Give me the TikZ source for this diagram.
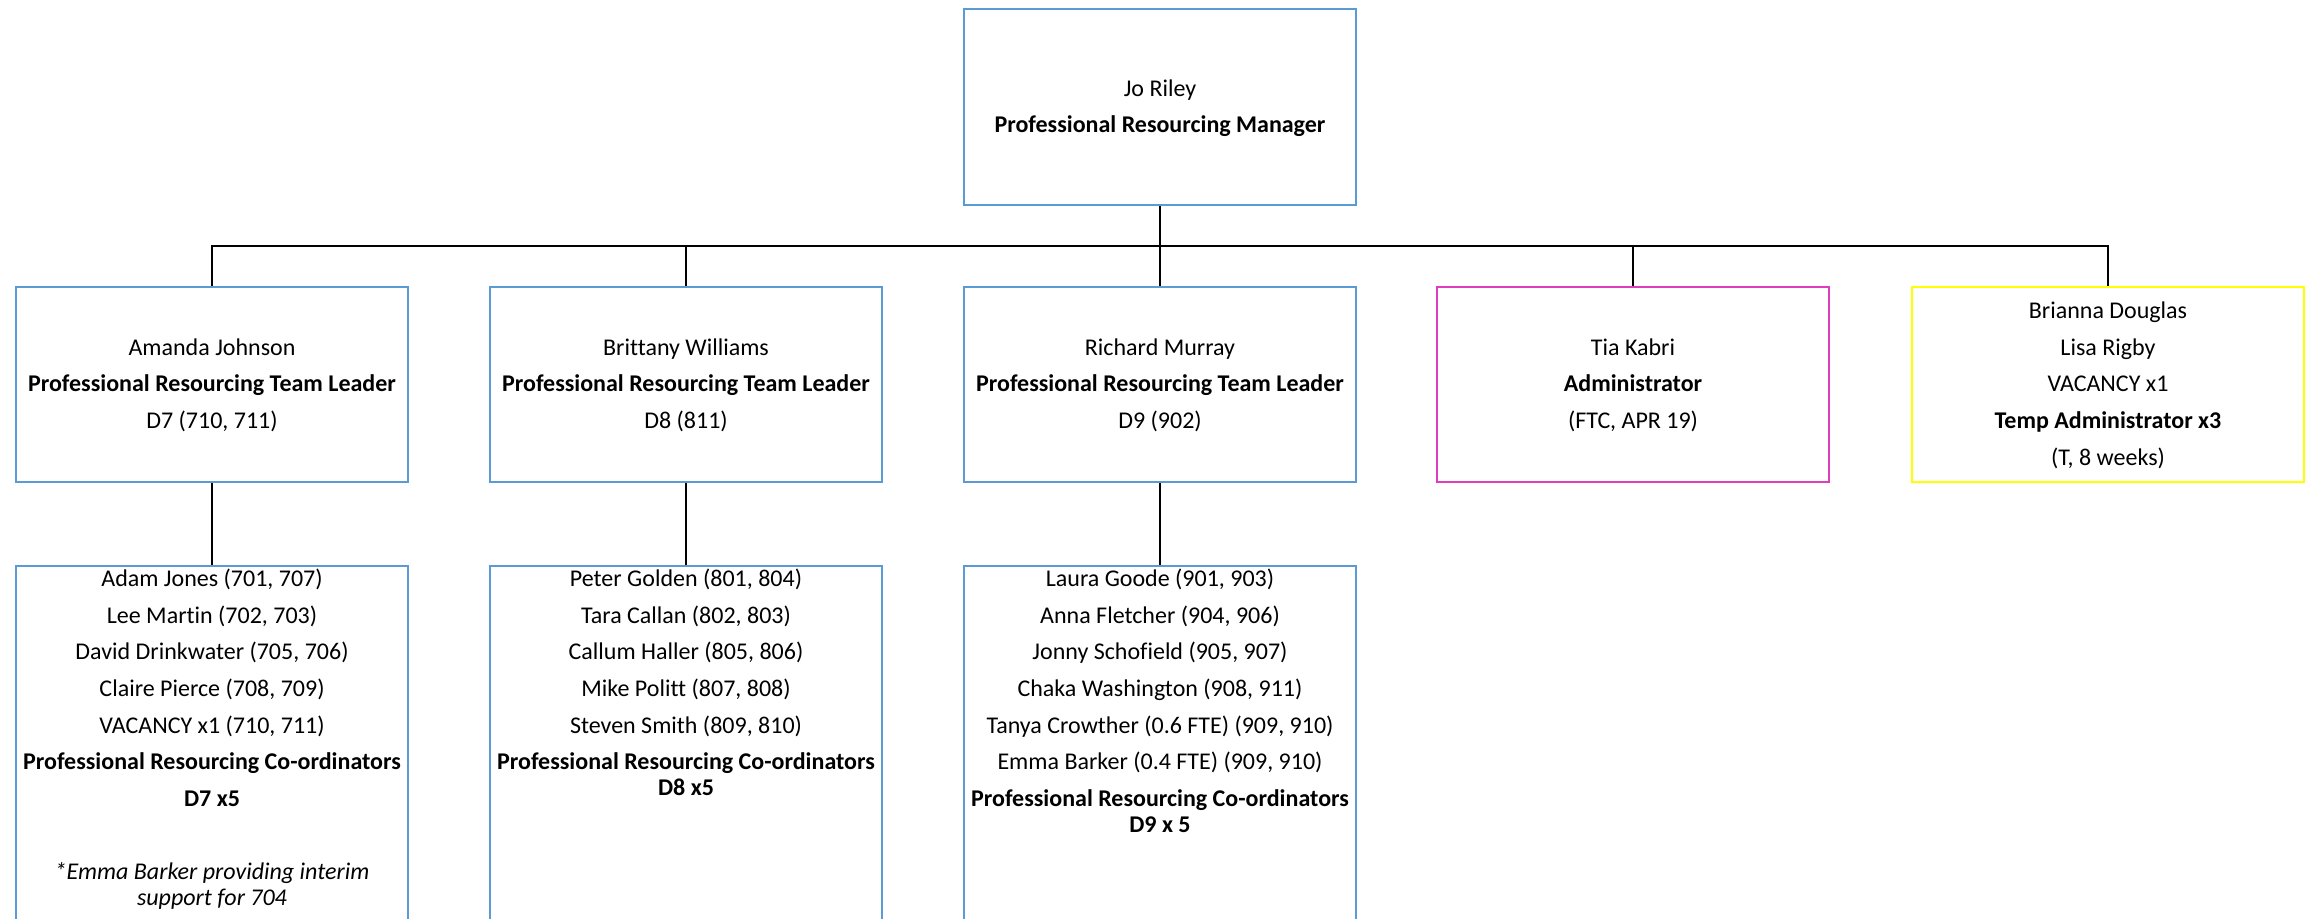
\documentclass[tikz,border=0pt]{standalone}
\usepackage{fontspec}
\setmainfont{Carlito}[Ligatures=NoCommon]
\definecolor{boxblue}{HTML}{5B9BD5}
\definecolor{boxpink}{HTML}{E03CBE}
\definecolor{boxyellow}{HTML}{FFFF00}
\setlength\tabcolsep{0pt}
\newcommand\tb[1]{\begin{tabular}[t]{c}#1\end{tabular}}
\newcommand\tc[1]{\begin{tabular}{c}#1\end{tabular}}
\tikzset{
  orgbox/.style={draw=boxblue, line width=1.9pt, rectangle, inner sep=0pt,
    minimum width=294pt, fill=white},
  topbox/.style={orgbox, minimum height=147pt},
  midbox/.style={orgbox, minimum height=146.25pt},
  lowbox/.style={orgbox, minimum height=300pt},
  lowtext/.style={anchor=base, inner sep=0pt},
  conn/.style={draw=black, line width=1.6pt},
  every node/.style={font=\fontsize{18}{27.5}\selectfont}
}
\begin{document}
\begin{tikzpicture}[x=0.75pt, y=-0.75pt]
\useasboundingbox (0,0) rectangle (2309,918);
\fill[white] (0,0) rectangle (2309,918);
\clip (0,0) rectangle (2309,918);

% top
\node[topbox] (top) at (1160,107) {\tc{Jo Riley\\ \textbf{Professional Resourcing Manager}}};

% middle row
\node[midbox] (A) at (212,384.5) {\tc{Amanda Johnson\\ \textbf{Professional Resourcing Team Leader}\\ D7 (710, 711)}};
\node[midbox] (B) at (686,384.5) {\tc{Brittany Williams\\ \textbf{Professional Resourcing Team Leader}\\ D8 (811)}};
\node[midbox] (C) at (1160,384.5) {\tc{Richard Murray\\ \textbf{Professional Resourcing Team Leader}\\ D9 (902)}};
\node[midbox, draw=boxpink] (D) at (1633,384.5) {\tc{Tia Kabri\\ \textbf{Administrator}\\ (FTC, APR 19)}};
\node[midbox, draw=boxyellow] (E) at (2108,384.5) {\tc{Brianna Douglas\\ Lisa Rigby\\ VACANCY x1\\ \textbf{Temp Administrator x3}\\ (T, 8 weeks)}};

% bottom row
\node[lowbox] (A2) at (212,766) {};
\node[lowbox] (B2) at (686,766) {};
\node[lowbox] (C2) at (1160,766) {};

\node[lowtext] (A2t) at (212,586.5) {\tb{Adam Jones (701, 707)\\ Lee Martin (702, 703)\\ David Drinkwater (705, 706)\\ Claire Pierce (708, 709)\\ VACANCY x1 (710, 711)\\ \textbf{Professional Resourcing Co-ordinators}\\ \textbf{D7 x5}\\ \\ \textit{*Emma Barker providing interim}\\[-8pt] \textit{support for 704}}};
\node[lowtext] (B2t) at (686,586.5) {\tb{Peter Golden (801, 804)\\ Tara Callan (802, 803)\\ Callum Haller (805, 806)\\ Mike Politt (807, 808)\\ Steven Smith (809, 810)\\ \textbf{Professional Resourcing Co-ordinators}\\[-8pt] \textbf{D8 x5}}};
\node[lowtext] (C2t) at (1160,586.5) {\tb{Laura Goode (901, 903)\\ Anna Fletcher (904, 906)\\ Jonny Schofield (905, 907)\\ Chaka Washington (908, 911)\\ Tanya Crowther (0.6 FTE) (909, 910)\\ Emma Barker (0.4 FTE) (909, 910)\\ \textbf{Professional Resourcing Co-ordinators}\\[-8pt] \textbf{D9 x 5}}};

% connectors
\coordinate (bus) at (1160,246);
\draw[conn] (top.south) -- (C.north);
\draw[conn] (A.north) |- (E.north |- bus) -- (E.north);
\draw[conn] (B.north) -- (B.north |- bus);
\draw[conn] (D.north) -- (D.north |- bus);
\draw[conn] (A.south) -- (A2.north);
\draw[conn] (B.south) -- (B2.north);
\draw[conn] (C.south) -- (C2.north);
\end{tikzpicture}
\end{document}
